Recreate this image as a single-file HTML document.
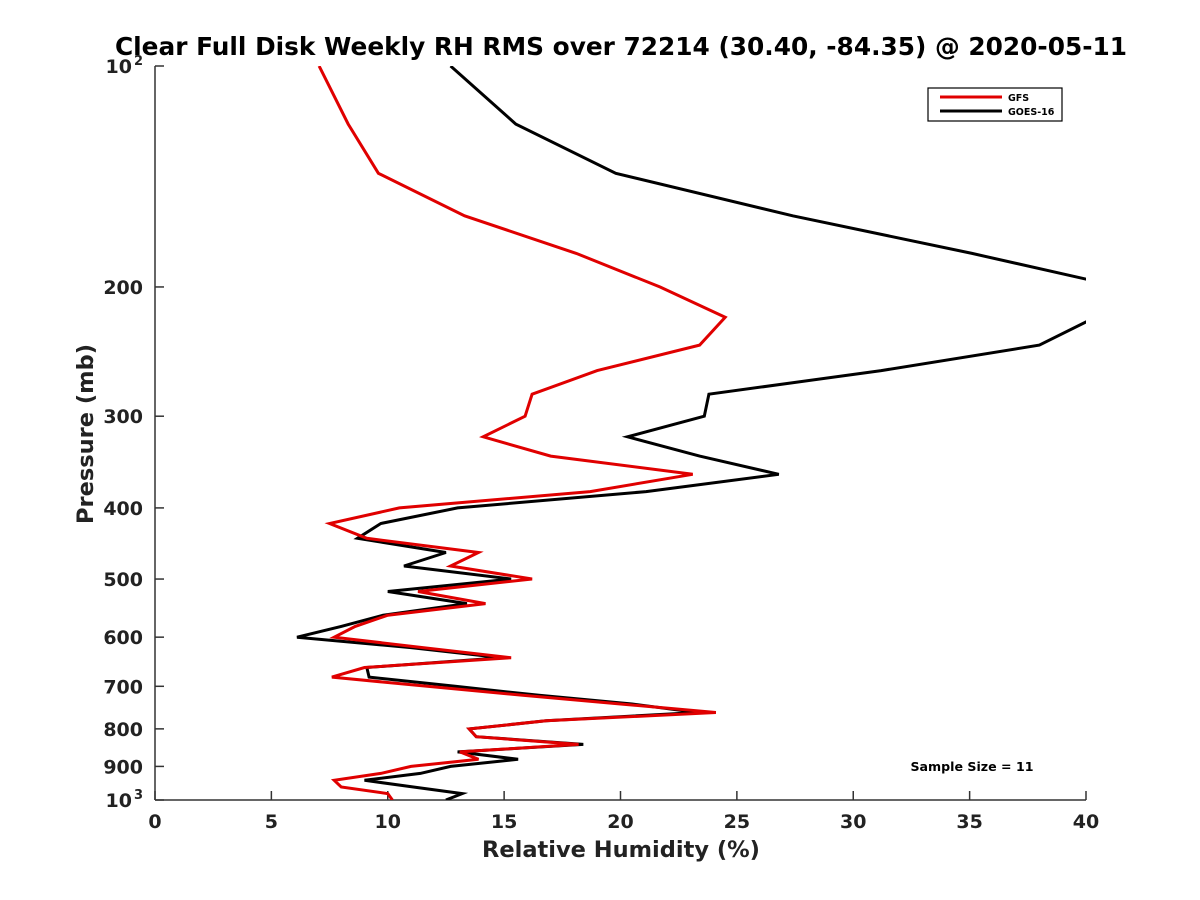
<!DOCTYPE html>
<html><head><meta charset="utf-8"><style>
body{margin:0;background:#fff;}
svg{display:block;font-family:"DejaVu Sans","Liberation Sans",sans-serif;font-weight:bold;}
</style></head><body>
<svg id="chart" width="1200" height="900">
<rect width="1200" height="900" fill="#fff"/>
<text x="621" y="55" text-anchor="middle" font-size="24.8">Clear Full Disk Weekly RH RMS over 72214 (30.40, -84.35) @ 2020-05-11</text>
<defs><clipPath id="pc"><rect x="155" y="66" width="931" height="734"/></clipPath></defs>
<g id="axes"></g>
<g id="series" clip-path="url(#pc)"></g>
<text x="621" y="857" text-anchor="middle" font-size="22.5" fill="#222">Relative Humidity (%)</text>
<text transform="translate(93,434) rotate(-90)" text-anchor="middle" font-size="22.5" fill="#222">Pressure (mb)</text>
<g>
<rect x="928" y="88" width="134" height="33" fill="#fff" stroke="#000" stroke-width="1.2"/>
<line x1="940" y1="97" x2="1002" y2="97" stroke="#e00000" stroke-width="3"/>
<text x="1008" y="101" font-size="9.5">GFS</text>
<line x1="940" y1="111" x2="1002" y2="111" stroke="#000" stroke-width="3"/>
<text x="1008" y="115" font-size="9.5">GOES-16</text>
</g>
<text x="972" y="771" text-anchor="middle" font-size="12.6">Sample Size = 11</text>
</svg>
<script>
const pressures = [100,120,140,160,180,200,220,240,260,280,300,320,340,360,380,400,420,440,460,480,500,520,540,560,580,600,620,640,660,680,700,720,740,760,780,800,820,840,860,880,900,920,940,960,980,1000];
const gfsValues = [7.05,8.3,9.6,13.3,18.1,21.7,24.5,23.4,19.0,16.2,15.9,14.1,17.0,23.1,18.7,10.5,7.5,9.1,13.9,12.7,16.2,11.3,14.2,10.0,8.6,7.7,11.5,15.3,9.0,7.6,11.7,15.8,20.0,24.1,16.8,13.5,13.8,18.2,13.1,13.9,11.0,9.7,7.7,8.0,10.0,10.2];
const goesValues = [12.7,15.5,19.8,27.4,35.1,41.5,40.4,38.0,31.2,23.8,23.6,20.3,23.4,26.8,21.1,13.0,9.7,8.7,12.5,10.7,15.3,10.0,13.4,9.8,8.0,6.1,11.0,14.9,9.1,9.2,12.9,16.5,20.5,23.3,16.8,13.5,13.8,18.4,13.0,15.6,12.7,11.4,9.0,11.1,13.2,12.5];
const xTicks = [0,5,10,15,20,25,30,35,40];
const yTicks = [100,200,300,400,500,600,700,800,900,1000];
const yTickBase = ["10","200","300","400","500","600","700","800","900","10"];
const yTickSup = ["2","","","","","","","","","3"];

const L=155,R=1086,T=66,B=800;
const xs=v=>L+(v-0)/(40-0)*(R-L);
const ys=p=>T+Math.log10(p/100)*(B-T);
const NS='http://www.w3.org/2000/svg';
const axes=document.getElementById('axes'), series=document.getElementById('series');
function mk(tag,attrs,parent){const e=document.createElementNS(NS,tag);for(const k in attrs)e.setAttribute(k,attrs[k]);parent.appendChild(e);return e;}

let e=mk('line',{x1:L,y1:B,x2:R,y2:B,stroke:'#333','stroke-width':1.5},axes);


e=mk('line',{x1:L,y1:T,x2:L,y2:B,stroke:'#333','stroke-width':1.5},axes);



xTicks.forEach(v=>{
  const x=xs(v);
  let t=mk('line',{x1:x,y1:B,x2:x,y2:B-9,stroke:'#333','stroke-width':1.5},axes);
  
  
  let lb=mk('text',{x:x,y:B+28,'text-anchor':'middle','font-size':19,fill:'#222'},axes);
  lb.textContent=v;
  
  
});
yTicks.forEach((p,i)=>{
  const y=ys(p);
  let t=mk('line',{x1:L,y1:y,x2:L+9,y2:y,stroke:'#333','stroke-width':1.5},axes);
  
  
  const hasSup=yTickSup[i]!=='';
  let lb=mk('text',{x:L-12-(hasSup?11:0),y:y+7,'text-anchor':'end','font-size':19,fill:'#222'},axes);
  lb.textContent=yTickBase[i];
  
  
  if(hasSup){
    let s=mk('text',{x:L-12,y:y-1,'text-anchor':'end','font-size':13,fill:'#222'},axes);
    s.textContent=yTickSup[i];
    
    
  }
});

function drawSeries(vals,color,name){
  const pts=vals.map((v,i)=>xs(v).toFixed(1)+','+ys(pressures[i]).toFixed(1)).join(' ');
  const pl=mk('polyline',{points:pts,fill:'none',stroke:color,'stroke-width':3,'stroke-linejoin':'miter'},series);
  
  
}
drawSeries(goesValues,'#000','goes16-line');
drawSeries(gfsValues,'#e00000','gfs-line');
</script>
</body></html>
